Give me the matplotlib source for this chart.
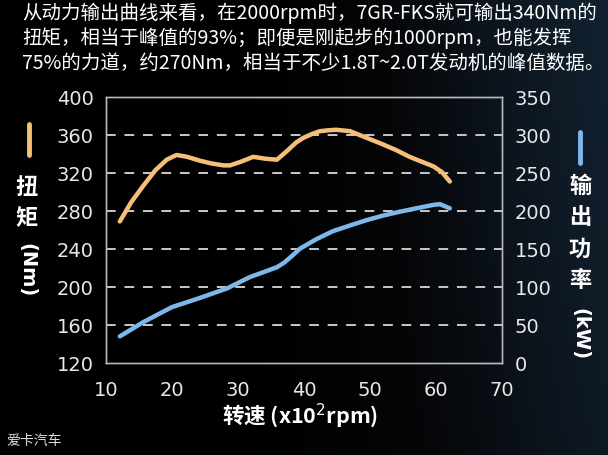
import numpy as np
import matplotlib
matplotlib.use("Agg")
import matplotlib.pyplot as plt
from matplotlib.colors import LinearSegmentedColormap

plt.rcParams['font.family'] = ['Noto Sans CJK SC', 'DejaVu Sans']

# 扭矩曲线 (x100 rpm, Nm)
rpm_t = [12.1, 13.8, 15.7, 17.5, 19.2, 20.7, 22.3, 24.2, 26.0, 27.8, 28.8,
         30.5, 32.3, 34.2, 35.9, 37.4, 38.8, 39.9, 41.2, 42.4, 43.8, 44.9,
         47.0, 49.5, 52.0, 54.0, 56.0, 57.8, 59.6, 60.9, 62.1]
torque = [269, 289, 307, 323, 334, 339, 337, 333, 330, 328, 328,
          332, 337, 335, 334, 343, 352, 357, 361, 364, 365, 365.5,
          364, 357, 350, 344, 337, 332, 327, 321, 311]

# 输出功率曲线 (x100 rpm, kW)
rpm_p = [12.1, 15.7, 20.0, 24.2, 28.3, 31.8, 35.9, 37.0, 38.2, 39.4, 41.9, 44.4,
         47.0, 49.5, 52.0, 54.5, 57.0, 59.6, 60.6, 62.1]
power = [35, 54, 73.5, 85.5, 98, 113, 126, 132, 141, 150.5, 163, 173.5,
         181, 188, 194, 199, 203.5, 208, 209, 203.5]

left_ticks = [120, 160, 200, 240, 280, 320, 360, 400]
right_ticks = [0, 50, 100, 150, 200, 250, 300, 350]
x_ticks = [10, 20, 30, 40, 50, 60, 70]

orange = '#f5bf78'
blue = '#7cb9ea'
fg = '#e8e8e8'

fig = plt.figure(figsize=(6.08, 4.56), dpi=100)

# 背景渐变
bg = fig.add_axes([0, 0, 1, 1], zorder=-10)
cmap = LinearSegmentedColormap.from_list('bg', ['#000000', '#050608', '#0d1620', '#122230'])
xx = np.linspace(0, 1, 300)
yy = np.linspace(0, 1, 200)
X, Y = np.meshgrid(xx, yy)
Z = np.clip((X - 0.35) / 0.65, 0, 1) ** 1.3 * (0.75 + 0.25 * (1 - Y))
bg.imshow(Z, cmap=cmap, extent=[0, 1, 0, 1], aspect='auto', origin='upper')
bg.axis('off')

ax = fig.add_axes([0.1743, 0.2018, 0.6513, 0.5833])
ax.set_facecolor('none')
ax.plot(rpm_t, torque, color=orange, lw=3.2, solid_capstyle='round', solid_joinstyle='round')
ax.set_xlim(10, 70)
ax.set_ylim(120, 400)
ax.set_xticks(x_ticks)
ax.set_yticks(left_ticks)
for y in left_ticks[1:-1]:
    ax.axhline(y, color='#c9c9c9', lw=1.4, dashes=(5, 4.5), zorder=0)

ax2 = ax.twinx()
ax2.plot(rpm_p, power, color=blue, lw=3.2, solid_capstyle='round', solid_joinstyle='round')
ax2.set_ylim(0, 350)
ax2.set_yticks(right_ticks)

for a in (ax, ax2):
    for s in a.spines.values():
        s.set_color('#b8b8b8')
        s.set_linewidth(1.0)
    a.tick_params(colors=fg, length=0, labelsize=14, pad=9)
    for lab in a.get_xticklabels() + a.get_yticklabels():
        lab.set_family('DejaVu Sans')
ax.tick_params(axis='x', pad=12)

# 标题文字
title = ("从动力输出曲线来看，在2000rpm时，7GR-FKS就可输出340Nm的\n"
         "扭矩，相当于峰值的93%；即便是刚起步的1000rpm，也能发挥\n"
         "75%的力道，约270Nm，相当于不少1.8T~2.0T发动机的峰值数据。")
fig.text(22 / 608, 1 - 3 / 456, title, color='white', fontsize=14,
         va='top', ha='left', linespacing=1.2)

# 左轴标题
fig.lines.append(plt.Line2D([29 / 608, 29 / 608], [1 - 125 / 456, 1 - 156 / 456],
                            transform=fig.transFigure, color=orange, lw=3.5,
                            solid_capstyle='round'))
fig.text(27 / 608, 1 - 188 / 456, '扭', color='white', fontsize=16, ha='center', va='center', weight='bold')
fig.text(27 / 608, 1 - 219 / 456, '矩', color='white', fontsize=16, ha='center', va='center', weight='bold')
fig.text(27 / 608, 1 - 270 / 456, '(Nm)', color='white', fontsize=14, ha='center', va='center',
         rotation=270, weight='bold', family='DejaVu Sans')

# 右轴标题
fig.lines.append(plt.Line2D([580 / 608, 580 / 608], [1 - 133 / 456, 1 - 164 / 456],
                            transform=fig.transFigure, color=blue, lw=3.5,
                            solid_capstyle='round'))
for i, ch in enumerate('输出功率'):
    fig.text(580 / 608, 1 - (186 + i * 31.5) / 456, ch, color='white', fontsize=16,
             ha='center', va='center', weight='bold')
fig.text(580 / 608, 1 - 334 / 456, '(kW)', color='white', fontsize=14, ha='center', va='center',
         rotation=270, weight='bold', family='DejaVu Sans')

# x轴标题
fig.text(300 / 608, 1 - 416 / 456, '转速 (x10$^2$rpm)', color='white', fontsize=15.5,
         ha='center', va='center', weight='bold')

# 水印
fig.text(6 / 608, 1 - 441 / 456, '爱卡汽车', color='#dddddd', fontsize=10, ha='left', va='center')

fig.savefig('out.png', dpi=100, facecolor='black')
